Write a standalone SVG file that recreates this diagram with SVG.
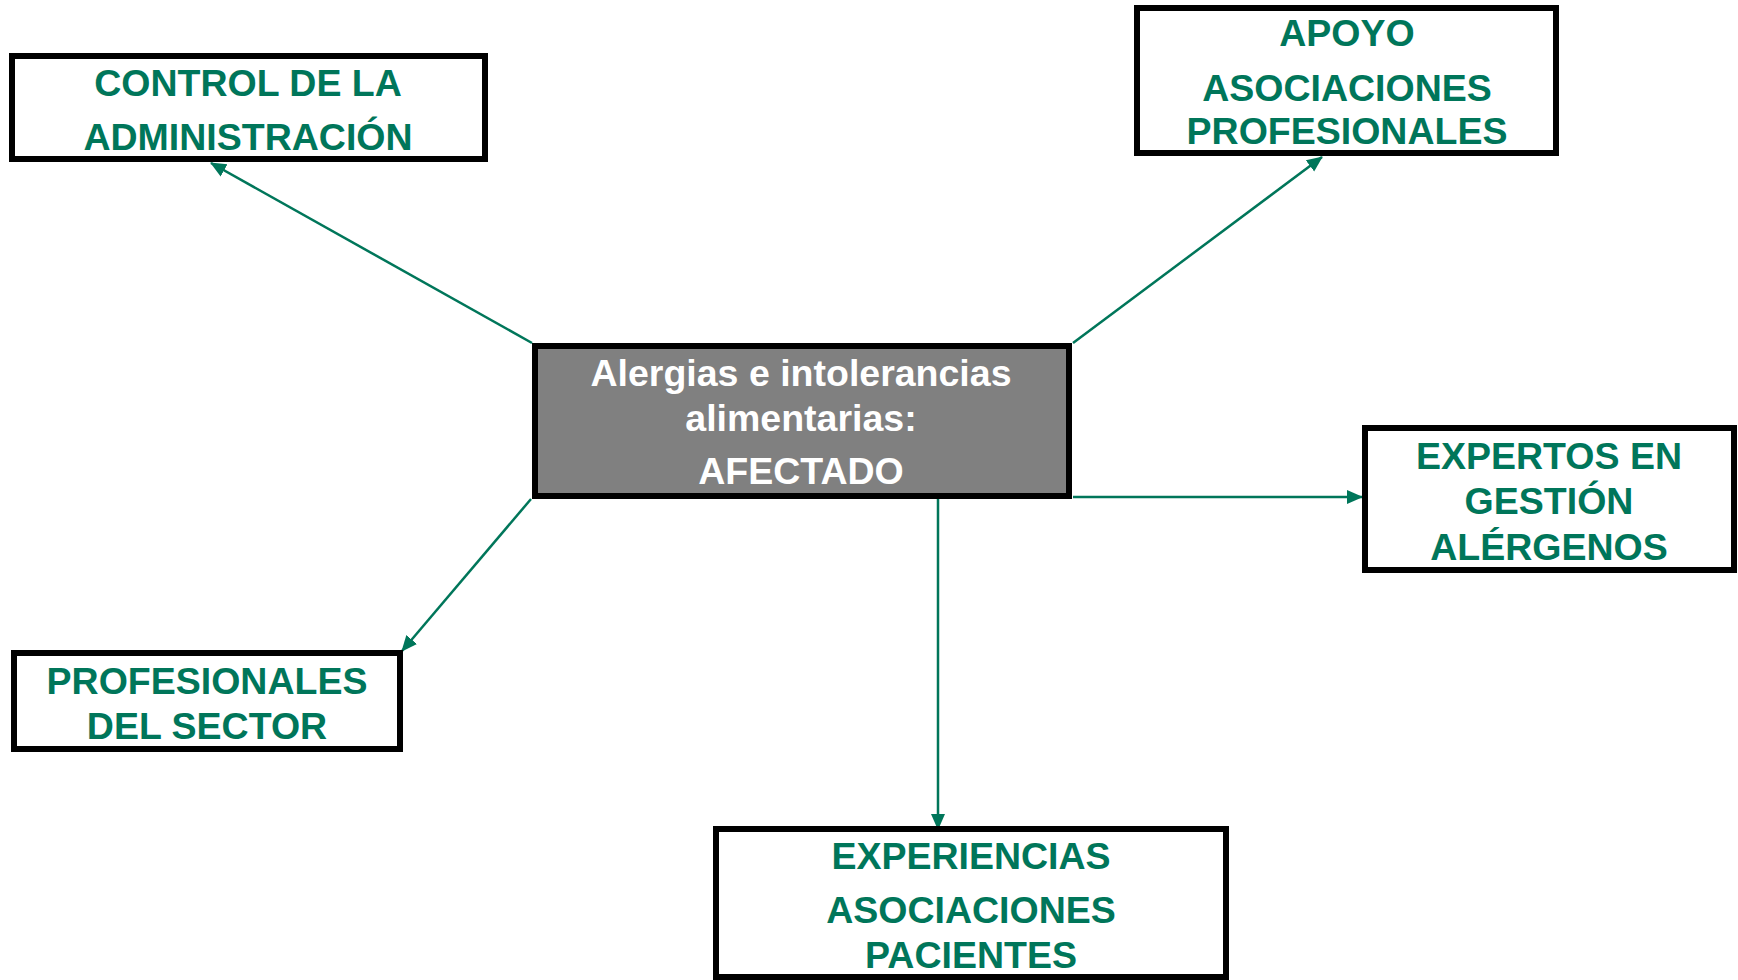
<svg xmlns="http://www.w3.org/2000/svg" width="1738" height="980" viewBox="0 0 1738 980">
<style>
.box{fill:#ffffff;stroke:#000000;stroke-width:6}
.center{fill:#808080;stroke:#000000;stroke-width:6}
.t{font-family:"Liberation Sans",Arial,sans-serif;font-weight:bold;font-size:37.5px;fill:#00765A;text-anchor:middle}
.tw{font-family:"Liberation Sans",Arial,sans-serif;font-weight:bold;font-size:37.5px;fill:#ffffff;text-anchor:middle}
.c{stroke:#00765A;stroke-width:2.5;fill:none;marker-end:url(#ah)}
</style>
<defs>
<marker id="ah" markerUnits="userSpaceOnUse" markerWidth="16" markerHeight="16" viewBox="0 0 16 16" refX="15" refY="8" orient="auto">
<path d="M0,1 L16,8 L0,15 Z" fill="#00765A"/>
</marker>
</defs>
<rect width="1738" height="980" fill="#ffffff"/>
<g id="connectors">
<line class="c" x1="532" y1="343" x2="211" y2="163"/>
<line class="c" x1="1073" y1="343" x2="1322" y2="157"/>
<line class="c" x1="1073" y1="497" x2="1362" y2="497"/>
<line class="c" x1="938" y1="494" x2="938" y2="829"/>
<line class="c" x1="531" y1="499" x2="402" y2="651"/>
</g>
<g id="center">
<rect class="center" x="535" y="346" width="534" height="150"/>
<text class="tw" x="801" y="386">Alergias e intolerancias</text>
<text class="tw" x="801" y="431">alimentarias:</text>
<text class="tw" x="801" y="484">AFECTADO</text>
</g>
<g id="control">
<rect class="box" x="12" y="56" width="473" height="103"/>
<text class="t" x="248" y="96">CONTROL DE LA</text>
<text class="t" x="248" y="150">ADMINISTRACIÓN</text>
</g>
<g id="apoyo">
<rect class="box" x="1137" y="8" width="419" height="145"/>
<text class="t" x="1347" y="46">APOYO</text>
<text class="t" x="1347" y="101">ASOCIACIONES</text>
<text class="t" x="1347" y="144">PROFESIONALES</text>
</g>
<g id="expertos">
<rect class="box" x="1365" y="428" width="369" height="142"/>
<text class="t" x="1549" y="469">EXPERTOS EN</text>
<text class="t" x="1549" y="514">GESTIÓN</text>
<text class="t" x="1549" y="560">ALÉRGENOS</text>
</g>
<g id="profesionales">
<rect class="box" x="14" y="653" width="386" height="96"/>
<text class="t" x="207" y="694">PROFESIONALES</text>
<text class="t" x="207" y="739">DEL SECTOR</text>
</g>
<g id="experiencias">
<rect class="box" x="716" y="829" width="510" height="148"/>
<text class="t" x="971" y="869">EXPERIENCIAS</text>
<text class="t" x="971" y="923">ASOCIACIONES</text>
<text class="t" x="971" y="968">PACIENTES</text>
</g>
</svg>
